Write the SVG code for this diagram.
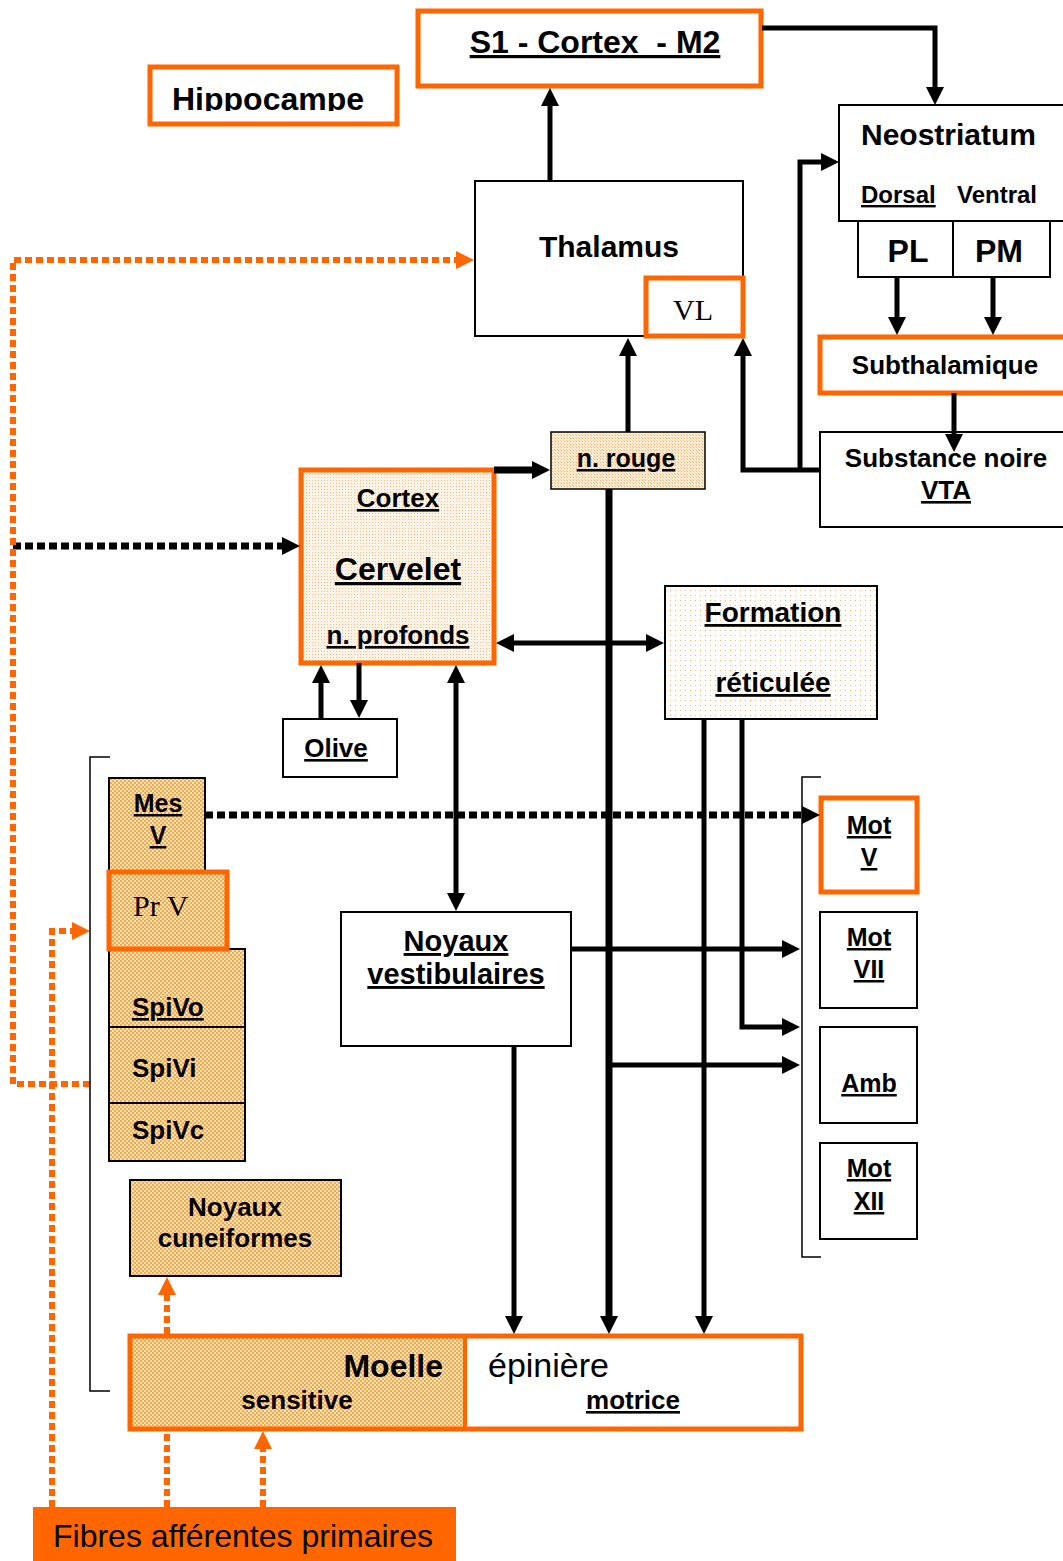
<svg xmlns="http://www.w3.org/2000/svg" width="1063" height="1561" viewBox="0 0 1063 1561">
<style>
text{font-family:"Liberation Sans",Arial,sans-serif;font-weight:bold;fill:#000}
.c{text-anchor:middle}
.u{text-decoration:underline}
.r{font-weight:normal}
.serif{font-family:"Liberation Serif","Times New Roman",serif;font-weight:normal}
.ob{fill:#fff;stroke:#ff6600;stroke-width:5}
.bb{fill:#fff;stroke:#000;stroke-width:2}
.ln{fill:none;stroke:#000;stroke-width:5}
.lw{fill:none;stroke:#000;stroke-width:7}
.dk{fill:none;stroke:#000;stroke-width:7;stroke-dasharray:8 4}
.do{fill:none;stroke:#ff6600;stroke-width:6;stroke-dasharray:7 4}
.thin{fill:none;stroke:#000;stroke-width:1.5}
</style>
<defs>
<marker id="ah" viewBox="0 0 18 18" refX="6" refY="9" markerWidth="18" markerHeight="18" markerUnits="userSpaceOnUse" orient="auto-start-reverse"><path d="M0,0 L18,9 L0,18 z" fill="#000"/></marker>
<marker id="ao" viewBox="0 0 18 18" refX="6" refY="9" markerWidth="18" markerHeight="18" markerUnits="userSpaceOnUse" orient="auto-start-reverse"><path d="M0,0 L18,9 L0,18 z" fill="#ff6600"/></marker>
<pattern id="pDense" width="4" height="4" patternUnits="userSpaceOnUse"><rect width="4" height="4" fill="#fde3b8"/><rect width="2" height="2" fill="#f7a84a"/><rect x="2" y="2" width="2" height="2" fill="#f7a84a"/></pattern>
<pattern id="pLight" width="3" height="3" patternUnits="userSpaceOnUse"><rect width="3" height="3" fill="#fdf3e6"/><rect width="1" height="1" fill="#f5c48c"/></pattern>
<pattern id="pMid" width="3" height="3" patternUnits="userSpaceOnUse"><rect width="3" height="3" fill="#fdebd2"/><rect width="1" height="1" fill="#f3b570"/><rect x="2" y="2" width="1" height="1" fill="#f7cf9e"/></pattern>
<pattern id="pSparse" width="5" height="5" patternUnits="userSpaceOnUse"><rect width="5" height="5" fill="#fffdf9"/><rect width="1" height="1" fill="#f4b878"/></pattern>
<clipPath id="hipClip"><rect x="150" y="67" width="247" height="44"/></clipPath>
</defs>

<g id="s1-cortex-m2">
<rect class="ob" x="418" y="11" width="343" height="75"/>
<text class="c u" x="595" y="53" font-size="32" style="white-space:pre">S1 - Cortex  - M2</text>
</g>
<g id="hippocampe">
<rect class="ob" x="150" y="67" width="247" height="57"/>
<text x="172" y="110" font-size="32" clip-path="url(#hipClip)">Hippocampe</text>
</g>
<g id="thalamus">
<rect class="bb" x="475" y="181" width="268" height="155"/>
<text class="c" x="609" y="257" font-size="30">Thalamus</text>
</g>
<g id="vl">
<rect class="ob" x="646" y="278" width="97" height="58"/>
<text class="c serif" x="693" y="320" font-size="30">VL</text>
</g>
<g id="neostriatum">
<rect class="bb" x="839" y="105" width="240" height="116"/>
<text x="861" y="145" font-size="30">Neostriatum</text>
<text class="u" x="861" y="203" font-size="24">Dorsal</text>
<text x="957" y="203" font-size="24">Ventral</text>
</g>
<g id="pl">
<rect class="bb" x="858" y="221" width="95" height="56"/>
<text class="c" x="908" y="262" font-size="32">PL</text>
</g>
<g id="pm">
<rect class="bb" x="953" y="221" width="97" height="56"/>
<text class="c" x="999" y="262" font-size="32">PM</text>
</g>
<g id="subthalamique">
<rect class="ob" x="820" y="337" width="260" height="56"/>
<text class="c" x="945" y="374" font-size="26">Subthalamique</text>
</g>
<g id="substance-noire">
<rect class="bb" x="820" y="432" width="260" height="95"/>
<text class="c" x="946" y="467" font-size="26">Substance noire</text>
<text class="c u" x="946" y="499" font-size="26">VTA</text>
</g>
<g id="n-rouge">
<rect x="551" y="432" width="154" height="57" fill="url(#pMid)" stroke="#000" stroke-width="1.5"/>
<text class="c u" x="626" y="467" font-size="25">n. rouge</text>
</g>
<g id="cervelet">
<rect x="301" y="470" width="193" height="193" fill="url(#pLight)" stroke="#ff6600" stroke-width="5"/>
<text class="c u" x="398" y="507" font-size="26">Cortex</text>
<text class="c u" x="398" y="580" font-size="32">Cervelet</text>
<text class="c u" x="398" y="644" font-size="26">n. profonds</text>
</g>
<g id="formation-reticulee">
<rect x="665" y="586" width="212" height="133" fill="url(#pSparse)" stroke="#000" stroke-width="2"/>
<text class="c u" x="773" y="622" font-size="28">Formation</text>
<text class="c u" x="773" y="692" font-size="28">réticulée</text>
</g>
<g id="olive">
<rect class="bb" x="283" y="719" width="114" height="58"/>
<text class="c u" x="336" y="757" font-size="26">Olive</text>
</g>
<g id="noyaux-vestibulaires">
<rect class="bb" x="341" y="912" width="230" height="134"/>
<text class="c u" x="456" y="951" font-size="29">Noyaux</text>
<text class="c u" x="456" y="984" font-size="29">vestibulaires</text>
</g>
<g id="mes-v">
<rect x="109" y="778" width="96" height="93" fill="url(#pDense)" stroke="#000" stroke-width="2"/>
<text class="c u" x="158" y="812" font-size="25">Mes</text>
<text class="c u" x="158" y="844" font-size="25">V</text>
</g>
<g id="spivo">
<rect x="109" y="949" width="136" height="78" fill="url(#pDense)" stroke="#000" stroke-width="2"/>
<text class="u" x="132" y="1016" font-size="26">SpiVo</text>
</g>
<g id="spivi">
<rect x="109" y="1027" width="136" height="76" fill="url(#pDense)" stroke="#000" stroke-width="2"/>
<text x="132" y="1077" font-size="26">SpiVi</text>
</g>
<g id="spivc">
<rect x="109" y="1103" width="136" height="58" fill="url(#pDense)" stroke="#000" stroke-width="2"/>
<text x="132" y="1139" font-size="26">SpiVc</text>
</g>
<g id="pr-v">
<rect x="109" y="872" width="118" height="77" fill="url(#pDense)" stroke="#ff6600" stroke-width="5"/>
<text class="serif" x="133" y="916" font-size="30">Pr V</text>
</g>
<g id="noyaux-cuneiformes">
<rect x="130" y="1180" width="211" height="96" fill="url(#pDense)" stroke="#000" stroke-width="2"/>
<text class="c" x="235" y="1216" font-size="26">Noyaux</text>
<text class="c" x="235" y="1247" font-size="26">cuneiformes</text>
</g>
<g id="mot-v">
<rect class="ob" x="821" y="798" width="96" height="94"/>
<text class="c u" x="869" y="834" font-size="25">Mot</text>
<text class="c u" x="869" y="866" font-size="25">V</text>
</g>
<g id="mot-vii">
<rect class="bb" x="820" y="912" width="97" height="96"/>
<text class="c u" x="869" y="946" font-size="25">Mot</text>
<text class="c u" x="869" y="978" font-size="25">VII</text>
</g>
<g id="amb">
<rect class="bb" x="820" y="1027" width="97" height="96"/>
<text class="c u" x="869" y="1092" font-size="25">Amb</text>
</g>
<g id="mot-xii">
<rect class="bb" x="820" y="1143" width="97" height="96"/>
<text class="c u" x="869" y="1177" font-size="25">Mot</text>
<text class="c u" x="869" y="1210" font-size="25">XII</text>
</g>
<g id="moelle-epiniere">
<rect x="130" y="1336" width="335" height="93" fill="url(#pDense)"/>
<rect x="130" y="1336" width="671" height="93" fill="none" stroke="#ff6600" stroke-width="5"/>
<line x1="465" y1="1336" x2="465" y2="1429" stroke="#ff6600" stroke-width="4"/>
<text x="443" y="1377" font-size="32" text-anchor="end">Moelle</text>
<text class="c" x="297" y="1409" font-size="26">sensitive</text>
<text class="r" x="488" y="1377" font-size="34">épinière</text>
<text class="c u" x="633" y="1409" font-size="26">motrice</text>
</g>
<g id="fibres-afferentes">
<rect x="33" y="1507" width="423" height="54" fill="#ff6600"/>
<text class="r" x="53" y="1547" font-size="32">Fibres afférentes primaires</text>
</g>

<g id="connectors">
<path class="ln" d="M550,181 V100" marker-end="url(#ah)"/>
<path class="ln" d="M762,28 H935 V93" marker-end="url(#ah)"/>
<path class="ln" d="M897,277 V323" marker-end="url(#ah)"/>
<path class="ln" d="M993,277 V323" marker-end="url(#ah)"/>
<path class="ln" d="M954,393 V440" marker-end="url(#ah)"/>
<path class="ln" d="M820,470 H743 V350" marker-end="url(#ah)"/>
<path class="ln" d="M800,470 V162 H827" marker-end="url(#ah)"/>
<path class="ln" d="M628,432 V350" marker-end="url(#ah)"/>
<path class="lw" d="M494,470 H538" marker-end="url(#ah)"/>
<path class="ln" d="M508,643 H652" marker-start="url(#ah)" marker-end="url(#ah)"/>
<path class="lw" d="M609,489 V1322" marker-end="url(#ah)"/>
<path class="ln" d="M704,719 V1322" marker-end="url(#ah)"/>
<path class="ln" d="M742,719 V1027 H788" marker-end="url(#ah)"/>
<path class="ln" d="M321,719 V677" marker-end="url(#ah)"/>
<path class="ln" d="M359,663 V706" marker-end="url(#ah)"/>
<path class="ln" d="M456,677 V899" marker-start="url(#ah)" marker-end="url(#ah)"/>
<path class="ln" d="M571,949 H788" marker-end="url(#ah)"/>
<path class="ln" d="M514,1046 V1322" marker-end="url(#ah)"/>
<path class="ln" d="M609,1065 H788" marker-end="url(#ah)"/>
<path class="dk" d="M205,815 H808" marker-end="url(#ah)"/>
<path class="dk" d="M13,546 H288" marker-end="url(#ah)"/>
<path class="do" d="M90,1084 H13 V260 H462" marker-end="url(#ao)"/>
<path class="do" d="M52,1507 V931 H78" marker-end="url(#ao)"/>
<path class="do" d="M167,1507 V1431"/>
<path class="do" d="M167,1334 V1289" marker-end="url(#ao)"/>
<path class="do" d="M263,1507 V1443" marker-end="url(#ao)"/>
<path class="thin" d="M110,757 H90 V1391 H110"/>
<path class="thin" d="M821,777 H802 V1257 H821"/>
</g>
</svg>
